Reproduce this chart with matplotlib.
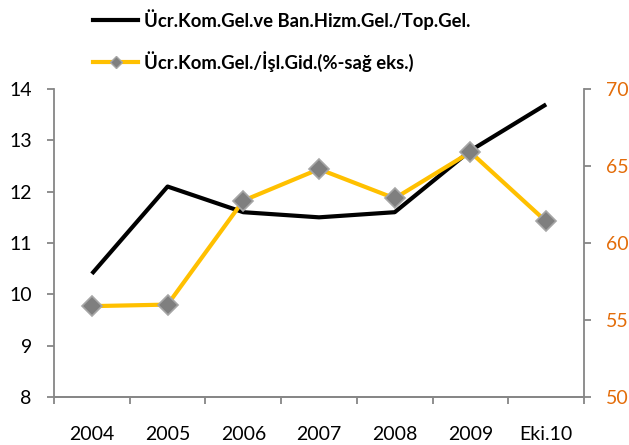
import matplotlib
matplotlib.use("Agg")
import matplotlib.pyplot as plt
from matplotlib.lines import Line2D
from matplotlib.ticker import FixedLocator

categories = ["2004", "2005", "2006", "2007", "2008", "2009", "Eki.10"]
fee_to_total_income = [10.4, 12.1, 11.6, 11.5, 11.6, 12.8, 13.7]
fee_to_opex = [55.9, 56.0, 62.75, 64.8, 62.9, 65.9, 61.4]
label_black = "Ücr.Kom.Gel.ve Ban.Hizm.Gel./Top.Gel."
label_yellow = "Ücr.Kom.Gel./İşl.Gid.(%-sağ eks.)"

plt.rcParams['font.family'] = ['Lato', 'DejaVu Sans']
gray = "#868686"

fig = plt.figure(figsize=(6.29, 4.45), dpi=100)
ax = fig.add_axes([54/629, 48/445, 530/629, 308/445])
ax2 = ax.twinx()

x = list(range(len(categories)))
ax.plot(x, fee_to_total_income, color="black", lw=3, zorder=3, solid_capstyle='butt')
ax2.plot(x, fee_to_opex, color="#FFC000", lw=3, marker="D", markersize=10,
         markerfacecolor="#7F7F7F", markeredgecolor="#A6A6A6", markeredgewidth=1.2, zorder=3)

ax.set_xlim(-0.5, len(categories) - 0.5)
ax.set_ylim(8, 14)
ax.set_yticks(range(8, 15))
ax2.set_ylim(50, 70)
ax2.set_yticks(range(50, 71, 5))

ax.set_xticks(x)
ax.set_xticklabels(categories)
ax.xaxis.set_minor_locator(FixedLocator([i - 0.5 for i in range(len(categories) + 1)]))
ax.tick_params(axis='x', which='major', length=0, pad=21, labelsize=14)
ax.tick_params(axis='x', which='minor', length=5, color=gray, width=1.3, direction='out')
ax.tick_params(axis='y', length=5, color=gray, width=1.3, labelsize=14, pad=11)
ax2.tick_params(axis='y', length=5, color=gray, width=1.3, labelsize=14, labelcolor="#E36C09", pad=11)

for a in (ax, ax2):
    a.spines['top'].set_visible(False)
    for s in ('left', 'right', 'bottom'):
        a.spines[s].set_color(gray)
        a.spines[s].set_linewidth(1.3)
ax2.spines['left'].set_visible(False)
ax.spines['right'].set_visible(False)

handles = [
    Line2D([], [], color="black", lw=3),
    Line2D([], [], color="#FFC000", lw=3, marker="D", markersize=6,
           markerfacecolor="#7F7F7F", markeredgecolor="#A6A6A6"),
]
fig.legend(handles, [label_black, label_yellow], loc='upper left',
           bbox_to_anchor=(93/629, 1 - 9/445), borderaxespad=0, borderpad=0,
           frameon=False, handlelength=2.45, handletextpad=0.3, labelspacing=1.15,
           prop={'weight': 'bold', 'size': 13.3})

fig.savefig("out.png", dpi=100)
